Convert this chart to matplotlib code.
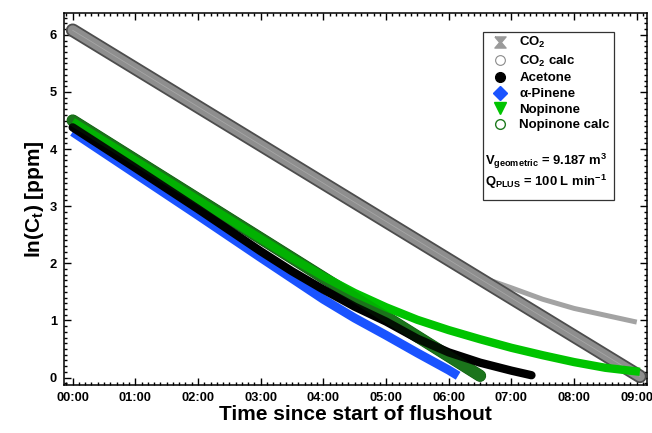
import numpy as np
import matplotlib
matplotlib.use("Agg")
import matplotlib.pyplot as plt
import matplotlib.patheffects as pe
from matplotlib.lines import Line2D
from matplotlib.patches import Rectangle
import matplotlib.ticker as ticker

plt.rcParams['font.family'] = ['Liberation Sans', 'DejaVu Sans']
plt.rcParams['font.weight'] = 'bold'
plt.rcParams['mathtext.fontset'] = 'custom'
plt.rcParams['mathtext.rm'] = 'Liberation Sans:bold'
plt.rcParams['mathtext.it'] = 'Liberation Sans:bold'
plt.rcParams['mathtext.bf'] = 'Liberation Sans:bold'

# time in hours since start of flushout, ln(C) in ppm
t_co2 = [0.0, 6.0, 6.4, 7.0, 7.5, 8.0, 8.5, 9.0]
co2 = [6.08, 2.06, 1.80, 1.57, 1.37, 1.21, 1.09, 0.97]

t_co2_calc = [0.0, 9.05]
co2_calc = [6.08, 0.02]

t_acet = [0.0, 1.0, 2.0, 3.0, 3.5, 4.0, 4.5, 5.0, 5.5, 6.0, 6.5, 7.0, 7.32]
acet = [4.38, 3.67, 2.95, 2.21, 1.86, 1.54, 1.24, 0.98, 0.68, 0.44, 0.26, 0.12, 0.04]

t_pin = [0.0, 1.0, 2.0, 3.0, 4.0, 4.5, 5.0, 5.5, 6.0, 6.15]
pin = [4.30, 3.57, 2.84, 2.10, 1.37, 1.04, 0.74, 0.43, 0.13, 0.03]

t_nop = [0.0, 1.0, 2.0, 3.0, 3.5, 4.0, 4.5, 5.0, 5.5, 6.0, 6.5, 7.0, 7.5, 8.0, 8.5, 9.05]
nop = [4.48, 3.80, 3.11, 2.43, 2.09, 1.77, 1.48, 1.23, 1.01, 0.83, 0.67, 0.52, 0.39, 0.27, 0.17, 0.10]

t_nop_calc = [0.0, 6.5]
nop_calc = [4.50, 0.03]

fig = plt.figure(figsize=(6.52, 4.33), dpi=100)
ax = fig.add_axes([0.098, 0.111, 0.894, 0.86])

# CO2 measured, then the calc tube over it
ax.plot(t_co2, co2, color='#a3a3a3', lw=3.6, solid_capstyle='butt', zorder=2)
ax.plot(t_co2_calc, co2_calc, color='#8e8e8e', lw=7.2, solid_capstyle='round', zorder=3,
        path_effects=[pe.Stroke(linewidth=9.8, foreground='#4d4d4d', capstyle='round'), pe.Normal()])
ax.plot(t_co2_calc, co2_calc, color='#b5b5b5', lw=0.6, alpha=0.6, zorder=3)

ax.plot(t_nop_calc, nop_calc, color='#1f7a1f', lw=8.0, solid_capstyle='round', zorder=3.2,
        path_effects=[pe.Stroke(linewidth=8.8, foreground='#0d5c0d', capstyle='round'), pe.Normal()])
ax.plot(t_nop, nop, color='#00c400', lw=6.0, solid_capstyle='butt', zorder=4)
ax.plot(t_pin, pin, color='#1a53ff', lw=6.5, solid_capstyle='butt', zorder=3.5)
ax.plot(t_acet, acet, color='black', lw=6.0, solid_capstyle='round', zorder=5)
# calc circles are open, so only a faint trace of the tube lies over the data
ax.plot(t_nop_calc, nop_calc, color='#0d5c0d', lw=8.0, alpha=0.18, solid_capstyle='round', zorder=6)

ax.set_xlim(-0.14, 9.16)
ax.set_ylim(-0.13, 6.39)
ax.xaxis.set_major_locator(ticker.MultipleLocator(1))
ax.xaxis.set_minor_locator(ticker.MultipleLocator(0.1))
ax.xaxis.set_major_formatter(ticker.FuncFormatter(lambda v, pos: f"{int(round(v)):02d}:00"))
ax.yaxis.set_major_locator(ticker.MultipleLocator(1))
ax.yaxis.set_minor_locator(ticker.MultipleLocator(0.1))
ax.tick_params(which='both', direction='in', top=True, right=True, width=1.0)
ax.tick_params(which='major', length=5, labelsize=9.3, pad=5)
ax.tick_params(which='minor', length=2.5)
for s in ax.spines.values():
    s.set_linewidth(1.1)

ax.set_xlabel('Time since start of flushout', fontsize=15, fontweight='bold', labelpad=1)
ax.set_ylabel(r'ln(C$_t$) [ppm]', fontsize=15, fontweight='bold', labelpad=3)

hourglass = [(-1, 1), (1, 1), (0.15, 0), (1, -1), (-1, -1), (-0.15, 0), (-1, 1)]
handles = [
    Line2D([], [], ls='none', marker=hourglass, ms=8, color='#9a9a9a', mec='#9a9a9a'),
    Line2D([], [], ls='none', marker='o', ms=7, mfc='white', mec='#8a8a8a', mew=0.8),
    Line2D([], [], ls='none', marker='o', ms=7, color='black'),
    Line2D([], [], ls='none', marker='D', ms=7, color='#1a53ff'),
    Line2D([], [], ls='none', marker='v', ms=8, color='#00c400'),
    Line2D([], [], ls='none', marker='o', ms=7, mfc='white', mec='#1f7a1f', mew=1.0),
]
labels = ['CO$_2$', 'CO$_2$ calc', 'Acetone', 'α-Pinene', 'Nopinone', 'Nopinone calc']
fig.legend(handles, labels, loc='upper left', bbox_to_anchor=(0.742, 0.937),
           frameon=False, fontsize=9.5, labelspacing=0.26, handletextpad=0.9,
           handlelength=1.2, borderpad=0.1)

fig.add_artist(Rectangle((0.741, 0.538), 0.201, 0.388, transform=fig.transFigure,
                         fill=False, edgecolor='#333333', lw=0.9))
fig.text(0.744, 0.628, r'V$_{geometric}$ = 9.187 m$^{3}$', fontsize=9.4, fontweight='bold', va='center')
fig.text(0.744, 0.581, r'Q$_{PLUS}$ = 100 L min$^{-1}$', fontsize=9.4, fontweight='bold', va='center')

fig.savefig('out.png', dpi=100)
